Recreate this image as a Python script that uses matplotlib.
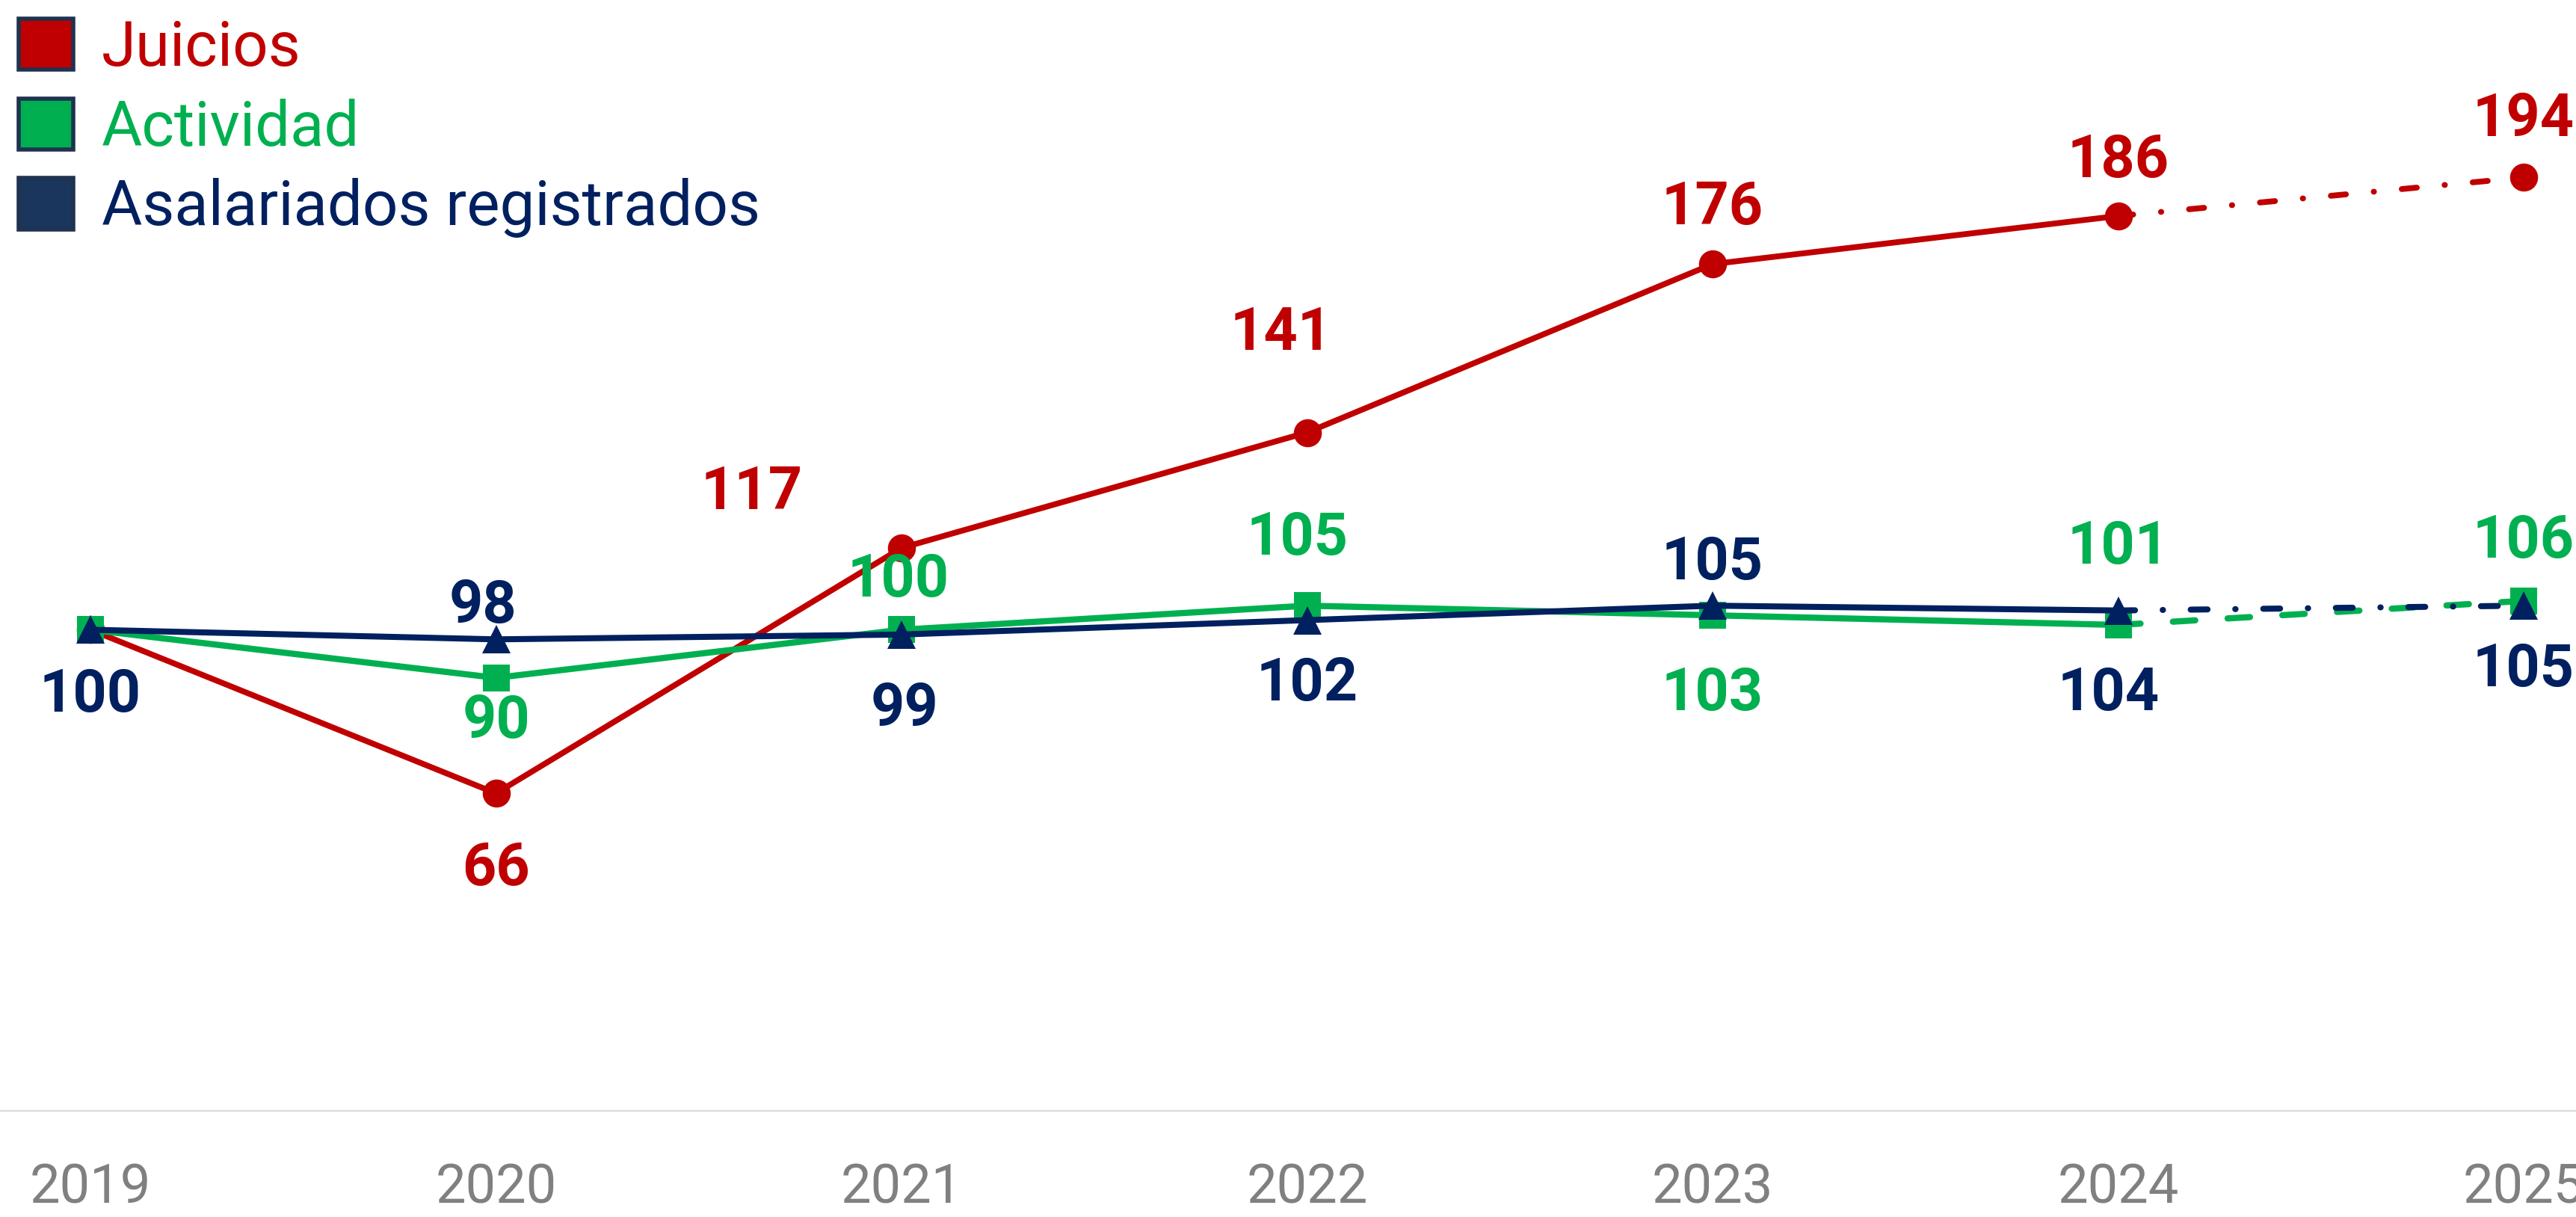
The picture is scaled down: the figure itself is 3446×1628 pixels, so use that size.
import matplotlib

matplotlib.use("Agg")
import matplotlib.pyplot as plt
from matplotlib.patches import Patch

YEARS = [2019, 2020, 2021, 2022, 2023, 2024, 2025]
JUICIOS = [100, 66, 117, 141, 176, 186, 194]
ACTIVIDAD = [100, 90, 100, 105, 103, 101, 106]
ASALARIADOS = [100, 98, 99, 102, 105, 104, 105]

RED = "#C00000"
GREEN = "#00B050"
NAVY = "#002060"
EDGE = "#1F3250"

# label offsets in pixels (dx, dy); None = no label
OFF_JUICIOS = [None, (0, -101), (-200, 73), (-35, 132), (0, 75), (0, 73), (0, 77)]
OFF_ACTIVIDAD = [None, (0, -59), (-4, 66), (-13, 90), (0, -105), (0, 103), (0, 79)]
OFF_ASALARIADOS = [(0, -88), (-18, 44), (4, -101), (0, -86), (0, 57), (-13, -112), (0, -86)]

plt.rcParams["font.family"] = ["Roboto", "DejaVu Sans"]

W, H, DPI = 3446, 1628, 100
fig = plt.figure(figsize=(W / DPI, H / DPI), dpi=DPI)
ax = fig.add_axes([0, 1 - 1486 / H, 1, 1486 / H])

px_year = (3376 - 121) / 6
ax.set_xlim(2019 - 121 / px_year, 2025 + (W - 3376) / px_year)
ax.set_ylim(0, 1486 / 6.436)

series = [
    (JUICIOS, RED, "o", 27, 5.6, (2.6, 4.8, 0.05, 4.8), OFF_JUICIOS, 1),
    (ACTIVIDAD, GREEN, "s", 26, 6.0, (3.6, 5.2), OFF_ACTIVIDAD, 2),
    (ASALARIADOS, NAVY, "^", 27, 5.8, (2.8, 4.6, 0.05, 4.6), OFF_ASALARIADOS, 3),
]

for vals, color, marker, ms, lw, dash, offs, z in series:
    ax.plot(YEARS[:6], vals[:6], color=color, lw=lw, zorder=z,
            solid_capstyle="round")
    ax.plot(YEARS[5:], vals[5:], color=color, lw=lw, zorder=z,
            dashes=dash, dash_capstyle="round")
    ax.plot(YEARS, vals, ls="none", marker=marker, ms=ms, color=color,
            markeredgewidth=0, zorder=z + 0.5)
    for x, v, off in zip(YEARS, vals, offs):
        if off is None:
            continue
        ax.annotate(str(v), (x, v), xytext=off, textcoords="offset pixels",
                    ha="center", va="center", fontsize=57, fontweight="bold",
                    color=color, zorder=10, annotation_clip=False)

for side in ("left", "right", "top"):
    ax.spines[side].set_visible(False)
ax.spines["bottom"].set_color("#D9D9D9")
ax.spines["bottom"].set_linewidth(1.6)
ax.set_yticks([])
ax.set_xticks(YEARS)
ax.set_xticklabels([str(y) for y in YEARS], fontsize=52, color="#808080")
ax.tick_params(axis="x", length=0, pad=50)

handles = [
    Patch(facecolor=RED, edgecolor=EDGE, linewidth=4),
    Patch(facecolor=GREEN, edgecolor=EDGE, linewidth=4),
    Patch(facecolor="#1B365D", edgecolor=EDGE, linewidth=4),
]
leg = fig.legend(handles, ["Juicios", "Actividad", "Asalariados registrados"],
                 loc="upper left", bbox_to_anchor=(0.0, 1.0), frameon=False,
                 fontsize=60, handlelength=0.88, handleheight=0.88,
                 handletextpad=0.45, labelspacing=0.32, borderaxespad=0.2,
                 borderpad=0.1)
for txt, c in zip(leg.get_texts(), [RED, GREEN, NAVY]):
    txt.set_color(c)

fig.savefig("out.png", dpi=DPI)
